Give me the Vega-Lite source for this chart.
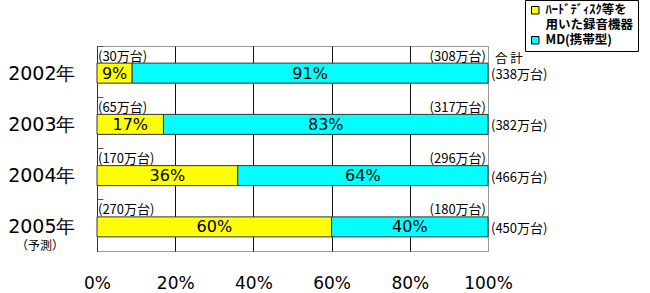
{
  "$schema": "https://vega.github.io/schema/vega-lite/v6.json",
  "width": 391,
  "height": 205,
  "autosize": "none",
  "padding": {"left": 97, "top": 46, "right": 162, "bottom": 42},
  "background": "white",
  "config": {
    "font": "Noto Sans CJK JP",
    "view": {"stroke": "#999", "strokeWidth": 1},
    "text": {"font": "Noto Sans CJK JP", "color": "black"}
  },
  "datasets": {
    "shares": [
      {"year": "2002年", "type": "ﾊｰﾄﾞﾃﾞｨｽｸ等を用いた録音機器", "ord": 1, "pct": 0.09, "label": "9%", "units": "(30万台)"},
      {"year": "2002年", "type": "MD(携帯型)", "ord": 2, "pct": 0.91, "label": "91%", "units": "(308万台)"},
      {"year": "2003年", "type": "ﾊｰﾄﾞﾃﾞｨｽｸ等を用いた録音機器", "ord": 1, "pct": 0.17, "label": "17%", "units": "(65万台)"},
      {"year": "2003年", "type": "MD(携帯型)", "ord": 2, "pct": 0.83, "label": "83%", "units": "(317万台)"},
      {"year": "2004年", "type": "ﾊｰﾄﾞﾃﾞｨｽｸ等を用いた録音機器", "ord": 1, "pct": 0.36, "label": "36%", "units": "(170万台)"},
      {"year": "2004年", "type": "MD(携帯型)", "ord": 2, "pct": 0.64, "label": "64%", "units": "(296万台)"},
      {"year": "2005年", "type": "ﾊｰﾄﾞﾃﾞｨｽｸ等を用いた録音機器", "ord": 1, "pct": 0.60, "label": "60%", "units": "(270万台)"},
      {"year": "2005年", "type": "MD(携帯型)", "ord": 2, "pct": 0.40, "label": "40%", "units": "(180万台)"}
    ],
    "totals": [
      {"year": "2002年", "total": "(338万台)", "head": "合 計"},
      {"year": "2003年", "total": "(382万台)", "head": ""},
      {"year": "2004年", "total": "(466万台)", "head": ""},
      {"year": "2005年", "total": "(450万台)", "head": ""}
    ],
    "notes": [
      {"year": "2005年", "note": "（予測）", "pos": -0.146}
    ]
  },
  "encoding": {
    "y": {
      "field": "year",
      "type": "nominal",
      "sort": ["2002年", "2003年", "2004年", "2005年"],
      "scale": {"domain": ["2002年", "2003年", "2004年", "2005年"], "paddingInner": 0, "paddingOuter": 0},
      "axis": {
        "title": null,
        "bandPosition": 0,
        "labelOffset": 2,
        "labelFont": "DejaVu Sans",
        "labelFontSize": 19,
        "labelColor": "black",
        "labelPadding": 28,
        "tickSize": -6,
        "tickColor": "#555",
        "domainColor": "#333",
        "grid": false
      }
    }
  },
  "layer": [
    {
      "data": {"name": "shares"},
      "transform": [
        {"stack": "pct", "groupby": ["year"], "sort": [{"field": "ord"}], "as": ["x0", "x1"]}
      ],
      "layer": [
        {
          "mark": {"type": "bar", "size": 20, "yOffset": 1.5, "stroke": "#333", "strokeWidth": 1},
          "encoding": {
            "x": {
              "field": "x0",
              "type": "quantitative",
              "scale": {"domain": [0, 1], "nice": false},
              "axis": {
                "title": null,
                "values": [0, 0.2, 0.4, 0.6, 0.8, 1],
                "format": "%",
                "labelFont": "DejaVu Sans",
                "labelFontSize": 17,
                "labelColor": "black",
                "labelPadding": 24,
                "labelFlush": false,
                "ticks": false,
                "domain": false,
                "grid": true,
                "gridColor": {"condition": {"test": "datum.value == 1", "value": "#999"}, "value": "#111"},
                "gridOpacity": 1,
                "gridWidth": 1
              }
            },
            "x2": {"field": "x1"},
            "color": {
              "field": "type",
              "type": "nominal",
              "scale": {
                "domain": ["ﾊｰﾄﾞﾃﾞｨｽｸ等を用いた録音機器", "MD(携帯型)"],
                "range": ["#FFFF00", "#00FFFF"]
              },
              "legend": {
                "title": null,
                "orient": "none",
                "legendX": 428,
                "legendY": -46,
                "direction": "vertical",
                "strokeColor": "black",
                "fillColor": "white",
                "padding": 4,
                "symbolType": "square",
                "symbolSize": 56,
                "symbolStrokeColor": "black",
                "symbolStrokeWidth": 1,
                "symbolOpacity": 1,
                "labelFontSize": 12.5,
                "labelFontWeight": "bold",
                "labelColor": "black",
                "labelLimit": 200,
                "labelOffset": 4,
                "rowPadding": 2,
                "labelExpr": "datum.value == 'MD(携帯型)' ? datum.label : ['ﾊｰﾄﾞﾃﾞｨｽｸ等を', '用いた録音機器']"
              }
            }
          }
        },
        {
          "transform": [
            {"fold": ["x0", "x1"], "as": ["edge", "pos"]},
            {"aggregate": [{"op": "mean", "field": "pos", "as": "mid"}], "groupby": ["year", "type", "label"]}
          ],
          "mark": {"type": "text", "font": "DejaVu Sans", "fontSize": 16, "baseline": "middle", "align": "center", "dy": 2},
          "encoding": {
            "x": {"field": "mid", "type": "quantitative"},
            "text": {"field": "label"}
          }
        },
        {
          "transform": [{"filter": "datum.ord == 1"}],
          "mark": {"type": "text", "fontSize": 13, "baseline": "middle", "align": "left", "dx": 1, "dy": -15},
          "encoding": {
            "x": {"datum": 0, "type": "quantitative"},
            "text": {"field": "units"}
          }
        },
        {
          "transform": [{"filter": "datum.ord == 2"}],
          "mark": {"type": "text", "fontSize": 13, "baseline": "middle", "align": "right", "dx": -2, "dy": -15},
          "encoding": {
            "x": {"datum": 1, "type": "quantitative"},
            "text": {"field": "units"}
          }
        }
      ]
    },
    {
      "data": {"name": "totals"},
      "layer": [
        {
          "mark": {"type": "text", "fontSize": 13, "baseline": "middle", "align": "left", "dx": 3, "dy": 3.5},
          "encoding": {
            "x": {"datum": 1, "type": "quantitative"},
            "text": {"field": "total"}
          }
        },
        {
          "mark": {"type": "text", "fontSize": 12.5, "baseline": "middle", "align": "left", "dx": 7, "dy": -13},
          "encoding": {
            "x": {"datum": 1, "type": "quantitative"},
            "text": {"field": "head"}
          }
        }
      ]
    },
    {
      "data": {"name": "notes"},
      "mark": {"type": "text", "fontSize": 12, "baseline": "middle", "align": "center", "dy": 21},
      "encoding": {
        "x": {"field": "pos", "type": "quantitative"},
        "text": {"field": "note"}
      }
    }
  ]
}
